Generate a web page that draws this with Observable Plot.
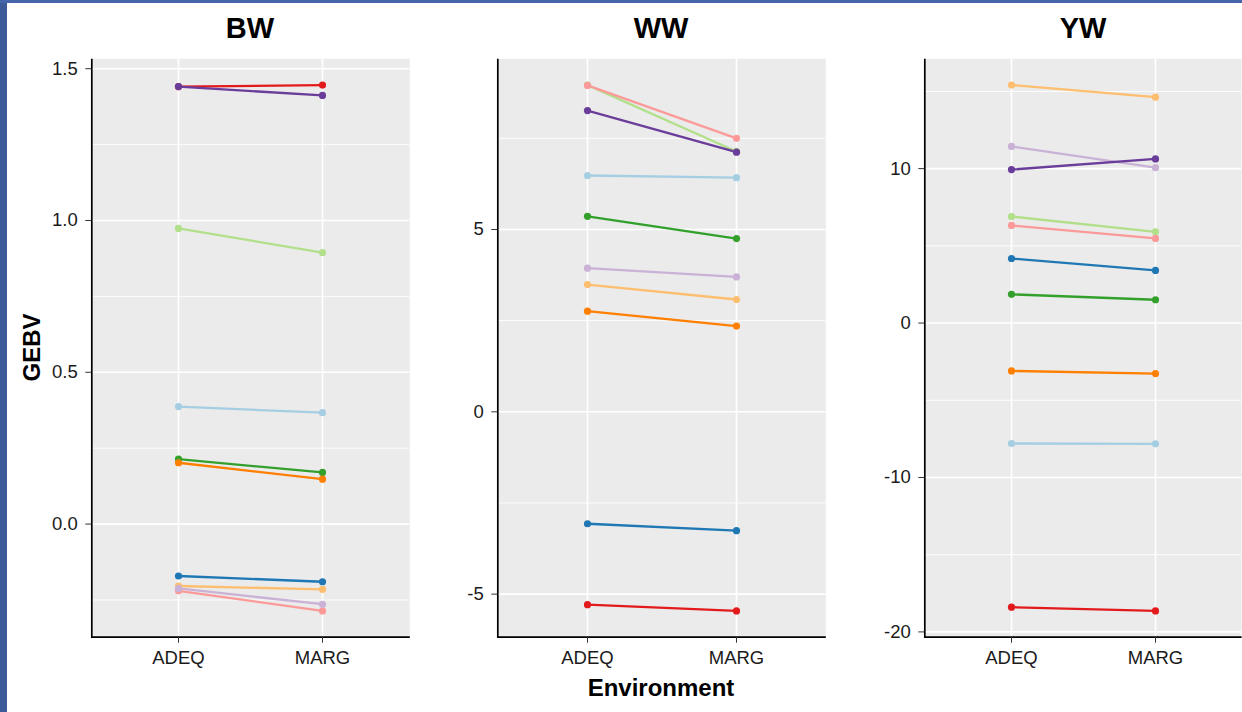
<!DOCTYPE html>
<html>
<head>
<meta charset="utf-8">
<script src="https://cdn.jsdelivr.net/npm/d3@7"></script>
<script src="https://cdn.jsdelivr.net/npm/@observablehq/plot@0.6"></script>
<style>
  html, body { margin: 0; padding: 0; background: #ffffff; }
  body { width: 1242px; height: 712px; overflow: hidden; position: relative;
         font-family: "Liberation Sans", Arial, sans-serif; }
  .edge-left { position: absolute; left: 0; top: 0; width: 7px; height: 712px; background: #3d5a98; z-index: 5; }
  .edge-top { position: absolute; left: 0; top: 0; width: 1242px; height: 3px; background: #4566ab; z-index: 5; }
  .panel { position: absolute; top: 0; }
  .ptitle { position: absolute; top: 14px; width: 200px; text-align: center; font-weight: bold;
            font-size: 29px; line-height: 29px; color: #000; }
  .xlab { position: absolute; top: 676px; width: 300px; text-align: center; font-weight: bold;
          font-size: 24px; line-height: 24px; color: #000; }
</style>
</head>
<body>
<div class="edge-left"></div>
<div class="edge-top"></div>
<div id="p1" class="panel" style="left:0px"></div>
<div id="p2" class="panel" style="left:420px"></div>
<div id="p3" class="panel" style="left:830px"></div>
<div class="ptitle" style="left:150px">BW</div>
<div class="ptitle" style="left:561px">WW</div>
<div class="ptitle" style="left:983px">YW</div>
<div class="xlab" style="left:511px">Environment</div>
<svg style="position:absolute;left:0;top:0" width="60" height="712">
  <text transform="translate(39.5,347.5) rotate(-90)" text-anchor="middle" font-weight="bold"
        font-size="24" font-family="Liberation Sans, Arial, sans-serif" fill="#000">GEBV</text>
</svg>
<script>
// ---- data ----
const environments = ["ADEQ", "MARG"];
const series = ["1", "2", "3", "4", "5", "6", "7", "8", "9", "10"];
const seriesColors = ["#a6cee3", "#1f78b4", "#b2df8a", "#33a02c", "#fb9a99",
                      "#e31a1c", "#fdbf6f", "#ff7f00", "#cab2d6", "#6a3d9a"];

// BW
const bwADEQ = [0.387, -0.171, 0.974, 0.214, -0.220, 1.441, -0.204, 0.202, -0.212, 1.441];
const bwMARG = [0.367, -0.190, 0.894, 0.170, -0.286, 1.446, -0.215, 0.148, -0.264, 1.412];
// WW
const wwADEQ = [6.48, -3.07, 8.96, 5.36, 8.95, -5.29, 3.49, 2.76, 3.94, 8.26];
const wwMARG = [6.42, -3.26, 7.14, 4.75, 7.50, -5.46, 3.08, 2.35, 3.70, 7.12];
// YW
const ywADEQ = [-7.80, 4.18, 6.90, 1.86, 6.32, -18.40, 15.41, -3.10, 11.44, 9.94];
const ywMARG = [-7.82, 3.41, 5.91, 1.51, 5.48, -18.64, 14.63, -3.27, 10.06, 10.63];

// tick values and labels
const bwTicks = [0, 0.5, 1, 1.5];
const bwTickLabels = ["0.0", "0.5", "1.0", "1.5"];
const bwMinor = [-0.25, 0.25, 0.75, 1.25];
const wwTicks = [-5, 0, 5];
const wwTickLabels = ["-5", "0", "5"];
const wwMinor = [-2.5, 2.5, 7.5];
const ywTicks = [-20, -10, 0, 10];
const ywTickLabels = ["-20", "-10", "0", "10"];
const ywMinor = [-15, -5, 5, 15];

// ---- drawing ----
function makePanel(cfg) {
  const rows = [];
  series.forEach((s, i) => {
    rows.push({s, env: environments[0], v: cfg.adeq[i]});
    rows.push({s, env: environments[1], v: cfg.marg[i]});
  });
  const [lo, hi] = d3.extent(rows, d => d.v);
  const pad = (hi - lo) * 0.05;
  const H = 712, mt = 58.3, mb = 75.3;
  const iw = cfg.width - cfg.ml - cfg.mr, ih = H - mt - mb;
  return Plot.plot({
    width: cfg.width, height: H,
    marginLeft: cfg.ml, marginRight: cfg.mr, marginTop: mt, marginBottom: mb,
    style: {fontFamily: "Liberation Sans, Arial, sans-serif", fontSize: "18.5px",
            color: "#1a1a1a", background: "transparent", overflow: "visible"},
    x: {type: "point", domain: environments, padding: 0.6, label: null},
    y: {domain: [lo - pad, hi + pad], label: null},
    color: {domain: series, range: seriesColors},
    marks: [
      Plot.frame({fill: "#EBEBEB", stroke: "none"}),
      Plot.ruleY(cfg.minor, {stroke: "#ffffff", strokeWidth: 0.9}),
      Plot.ruleY(cfg.ticks, {stroke: "#ffffff", strokeWidth: 1.6}),
      Plot.ruleX(environments, {stroke: "#ffffff", strokeWidth: 1.6}),
      Plot.line(rows, {x: "env", y: "v", z: "s", stroke: "s", strokeWidth: 2.3}),
      Plot.dot(rows, {x: "env", y: "v", fill: "s", r: 3.6}),
      Plot.frame({stroke: "#000000", strokeWidth: 1.7,
                  strokeDasharray: `0 ${iw + ih} ${iw + ih}`}),
      Plot.axisY(cfg.ticks, {tickSize: 6, tickPadding: 8, stroke: "#333333", fill: "#1a1a1a",
                             tickFormat: d => cfg.labels[cfg.ticks.indexOf(d)], label: null}),
      Plot.axisX(environments, {tickSize: 6, tickPadding: 8, stroke: "#333333", fill: "#1a1a1a",
                                label: null})
    ]
  });
}

document.getElementById("p1").append(makePanel({
  width: 420, ml: 91.3, mr: 10.7, adeq: bwADEQ, marg: bwMARG,
  ticks: bwTicks, labels: bwTickLabels, minor: bwMinor
}));
document.getElementById("p2").append(makePanel({
  width: 420, ml: 77.3, mr: 14.7, adeq: wwADEQ, marg: wwMARG,
  ticks: wwTicks, labels: wwTickLabels, minor: wwMinor
}));
document.getElementById("p3").append(makePanel({
  width: 412, ml: 94.3, mr: 0.9, adeq: ywADEQ, marg: ywMARG,
  ticks: ywTicks, labels: ywTickLabels, minor: ywMinor
}));
</script>
</body>
</html>
